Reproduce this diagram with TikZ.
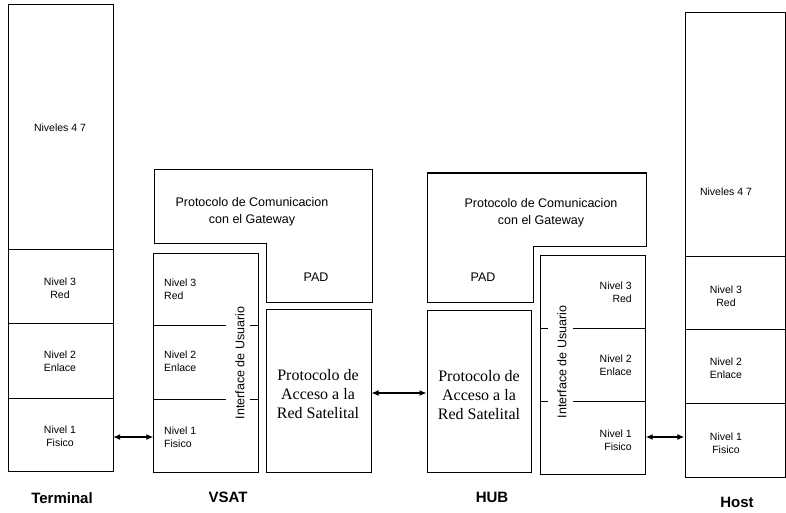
\documentclass[tikz,border=0pt]{standalone}
\usepackage{fontspec}
\setmainfont{Liberation Sans}
\newfontfamily\serifface{Liberation Serif}
\usetikzlibrary{arrows.meta}
\begin{document}
\begin{tikzpicture}[x=1pt,y=-1pt,
  box/.style={draw,line width=1pt},
  ln/.style={line width=1pt},
  small/.style={font=\fontsize{10.5}{13}\selectfont,inner sep=0pt},
  mid/.style={font=\fontsize{12.5}{17}\selectfont,inner sep=0pt,align=center},
  acc/.style={font=\serifface\fontsize{16}{19}\selectfont,inner sep=0pt,align=center},
  title/.style={font=\bfseries\fontsize{15}{17}\selectfont,inner sep=0pt},
  link/.style={line width=1.2pt,{Latex[length=7pt,width=6pt]}-{Latex[length=7pt,width=6pt]}}]
\useasboundingbox (0,0) rectangle (786,513);

% ---------- Terminal stack ----------
\draw[box] (8,5) rectangle (113,471);
\draw[ln] (8,249) -- (113,249) (8,323) -- (113,323) (8,398) -- (113,398);
\node[small] (t4) at (60,128) {Niveles 4 7};
\node[small,align=center] (t3) at (60,288) {Nivel 3\\Red};
\node[small,align=center] (t2) at (60,361) {Nivel 2\\Enlace};
\node[small,align=center] (t1l) at (60,436) {Nivel 1\\Fisico};
\node[minimum width=105pt,minimum height=73pt,inner sep=0pt] (t1) at (60.5,437) {};

% ---------- VSAT ----------
\draw[box] (154,170) -- (372,170) -- (372,302) -- (266,302) -- (266,243) -- (154,243) -- cycle;
\node[mid] (vgw) at (252,212) {Protocolo de Comunicacion\\con el Gateway};
\node[mid] (vpad) at (316,277) {PAD};

\node[box,minimum width=105pt,minimum height=219pt,inner sep=0pt] (vst) at (205.5,362.5) {};
\draw[ln] (154,325) -- (226,325) (250,325) -- (258,325);
\draw[ln] (154,399) -- (226,399) (250,399) -- (258,399);
\node[small,align=left,anchor=west] (v3) at (164,289) {Nivel 3\\Red};
\node[small,align=left,anchor=west] (v2) at (164,361) {Nivel 2\\Enlace};
\node[small,align=left,anchor=west] (v1) at (164,437) {Nivel 1\\Fisico};
\node[mid,rotate=90] (vif) at (240,363) {Interface de Usuario};
\node[minimum width=1pt,minimum height=1pt,inner sep=0pt] (v1w) at (154,437) {};

\node[box,minimum width=105pt,minimum height=163pt,inner sep=0pt] (vac) at (318.5,390.5) {};
\node[acc] (vact) at (318,394) {Protocolo de\\Acceso a la\\Red Satelital};

% ---------- HUB ----------
\draw[box] (427,173) -- (646,173) -- (646,246) -- (533,246) -- (533,302) -- (427,302) -- cycle;
\node[mid] (hgw) at (541,213) {Protocolo de Comunicacion\\con el Gateway};
\node[mid] (hpad) at (483,277) {PAD};

\node[box,minimum width=104pt,minimum height=162pt,inner sep=0pt] (hac) at (479,391.5) {};
\node[acc] (hact) at (479,395) {Protocolo de\\Acceso a la\\Red Satelital};

\node[box,minimum width=105pt,minimum height=219pt,inner sep=0pt] (hst) at (592.5,364.5) {};
\draw[ln] (540,328) -- (548,328) (573,328) -- (645,328);
\draw[ln] (540,401) -- (548,401) (573,401) -- (645,401);
\node[small,align=right,anchor=east] (h3) at (632,292) {Nivel 3\\Red};
\node[small,align=right,anchor=east] (h2) at (632,365) {Nivel 2\\Enlace};
\node[small,align=right,anchor=east] (h1) at (632,440) {Nivel 1\\Fisico};
\node[mid,rotate=90] (hif) at (562,362) {Interface de Usuario};
\node[minimum width=1pt,minimum height=1pt,inner sep=0pt] (h1e) at (645,437) {};

% ---------- Host stack ----------
\draw[box] (685,13) rectangle (785,477);
\draw[ln] (685,256) -- (785,256) (685,329) -- (785,329) (685,403) -- (785,403);
\node[small] (o4) at (726,192) {Niveles 4 7};
\node[small,align=center] (o3) at (726,296) {Nivel 3\\Red};
\node[small,align=center] (o2) at (726,368) {Nivel 2\\Enlace};
\node[small,align=center] (o1l) at (726,443) {Nivel 1\\Fisico};
\node[minimum width=1pt,minimum height=1pt,inner sep=0pt] (o1w) at (685,437) {};

% ---------- links ----------
\draw[link] (t1.east |- v1w) -- (v1w);
\draw[link] (vac.east |- 0,393) -- (hac.west |- 0,393);
\draw[link] (h1e) -- (o1w);

% ---------- captions ----------
\node[title] (cap1) at (62,498) {Terminal};
\node[title] (cap2) at (228,497) {VSAT};
\node[title] (cap3) at (492,497) {HUB};
\node[title] (cap4) at (737,502) {Host};
\end{tikzpicture}
\end{document}
